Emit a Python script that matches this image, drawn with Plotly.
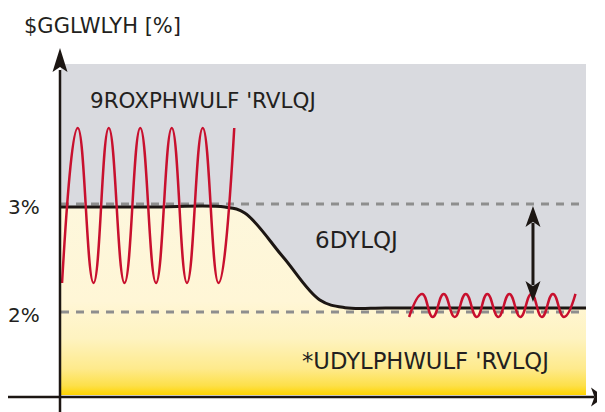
import plotly.graph_objects as go

# ---------------- data ----------------
y_tick_vals = [2, 3]
y_tick_text = ["2%", "3%"]
ref_levels = [3.0, 2.0]

# gravimetric (black) curve: time vs additive %
grav_x = [0.0, 17.0, 31.2, 35.0, 42.3, 49.3, 54.1, 62.0, 80.0, 100.0]
grav_y = [2.972, 2.972, 2.972, 2.917, 2.509, 2.111, 2.040, 2.037, 2.037, 2.037]

# volumetric dosing oscillation (extremes)
vol_x = [0.2, 3.2, 6.2, 9.1, 12.1, 15.1, 18.1, 21.1, 24.0, 27.0, 30.0, 33.0]
vol_y = [2.269, 3.704, 2.269, 3.704, 2.269, 3.704, 2.269, 3.704, 2.269, 3.704, 2.269, 3.704]

# small oscillation after saving (extremes)
small_x = [66.3, 68.8, 70.8, 72.9, 75.0, 77.1, 79.2, 81.2, 83.3, 85.4, 87.5, 89.6,
           91.6, 93.7, 95.8, 98.0]
small_y = [1.954, 2.167, 1.954, 2.167, 1.954, 2.167, 1.954, 2.167, 1.954, 2.167,
           1.954, 2.167, 1.954, 2.167, 1.954, 2.167]

labels = {
    "title": "$GGLWLYH [%]",
    "vol": "9ROXPHWULF 'RVLQJ",
    "save": "6DYLQJ",
    "grav": "*UDYLPHWULF 'RVLQJ",
}

# ---------------- geometry helpers (screen pixels; page has an 8px body margin) ----------------
OFF = 8
W, H = 605 - OFF, 412 - OFF
PX_X0, PX_PER_X = 61.0, 5.25      # x=0 at screen pixel 61
PX_Y3, PX_PER_Y = 204.0, 108.0    # y=3 at screen pixel 204

def dx(px):
    return px / PX_PER_X

def dy(px):
    return px / PX_PER_Y

def px_x(p):
    return (p - PX_X0) / PX_PER_X

def px_y(p):
    return 3 - (p - PX_Y3) / PX_PER_Y

x_range = [px_x(OFF), px_x(605)]
y_range = [px_y(412), px_y(OFF)]

X_END = 100.0
Y_TOP = px_y(64)           # top of grey area
Y_BASE = px_y(395)         # bottom of coloured area
AX_X = px_x(60)            # y-axis position
AX_Y = px_y(397)           # x-axis position

INK = "#1c1613"
RED = "#c8102e"
GREY_BG = "#d9dadf"
DASH = "#8e8e8e"
FONT = "DejaVu Sans"

fig = go.Figure()

# base for the yellow fill
fig.add_trace(go.Scatter(x=[0, X_END], y=[Y_BASE, Y_BASE], mode="lines",
                         line=dict(width=0), hoverinfo="skip", showlegend=False))
# yellow gradient fill under the gravimetric curve
fig.add_trace(go.Scatter(
    x=grav_x, y=grav_y, mode="lines", line=dict(width=0, shape="spline", smoothing=1.0),
    fill="tonexty",
    fillgradient=dict(type="vertical", start=Y_BASE, stop=grav_y[0],
                      colorscale=[[0.0, "#ffd400"], [0.05, "#fde04a"], [0.14, "#feea8c"],
                                  [0.30, "#fef3c0"], [0.5, "#fff6d6"], [1.0, "#fdf7dc"]]),
    hoverinfo="skip", showlegend=False))

# dashed reference lines
for lv in ref_levels:
    fig.add_trace(go.Scatter(x=[0, X_END], y=[lv, lv], mode="lines",
                             line=dict(color=DASH, width=3, dash="8px,7px"),
                             hoverinfo="skip", showlegend=False))

# black gravimetric line
fig.add_trace(go.Scatter(x=grav_x, y=grav_y, mode="lines",
                         line=dict(color=INK, width=3, shape="spline", smoothing=1.0),
                         showlegend=False))

# red oscillations
fig.add_trace(go.Scatter(x=vol_x, y=vol_y, mode="lines",
                         line=dict(color=RED, width=2.5, shape="spline", smoothing=1.3),
                         showlegend=False))
fig.add_trace(go.Scatter(x=small_x, y=small_y, mode="lines",
                         line=dict(color=RED, width=2.5, shape="spline", smoothing=1.3),
                         showlegend=False))

shapes = []
# grey background region
shapes.append(dict(type="rect", xref="x", yref="y", x0=0, x1=X_END, y0=Y_BASE, y1=Y_TOP,
                   fillcolor=GREY_BG, line=dict(width=0), layer="below"))

# y axis with arrow
shapes.append(dict(type="line", xref="x", yref="y", x0=AX_X, x1=AX_X,
                   y0=y_range[0], y1=px_y(70), line=dict(color=INK, width=2.5)))
tip, base, notch = px_y(48), px_y(72), px_y(67)
shapes.append(dict(type="path", xref="x", yref="y",
                   path=f"M {AX_X},{tip} L {AX_X + dx(7.5)},{base} L {AX_X},{notch} "
                        f"L {AX_X - dx(7.5)},{base} Z",
                   fillcolor=INK, line=dict(width=0)))
# x axis with arrow
x_tip = px_x(604.5)
x_base = px_x(591)
x_notch = px_x(594.5)
shapes.append(dict(type="line", xref="x", yref="y", x0=x_range[0], x1=x_notch,
                   y0=AX_Y, y1=AX_Y, line=dict(color=INK, width=2.5)))
shapes.append(dict(type="path", xref="x", yref="y",
                   path=f"M {x_tip},{AX_Y} L {x_base},{AX_Y + dy(9.5)} L {x_notch},{AX_Y} "
                        f"L {x_base},{AX_Y - dy(9.5)} Z",
                   fillcolor=INK, line=dict(width=0)))

# double-headed "saving" arrow
ARR_X = 89.9
ARR_TOP = 2.981
ARR_BOT = 2.093
hl = dy(21)
hw = dx(7.5)
shapes.append(dict(type="line", xref="x", yref="y", x0=ARR_X, x1=ARR_X,
                   y0=ARR_BOT + hl * 0.8, y1=ARR_TOP - hl * 0.8, line=dict(color=INK, width=3)))
shapes.append(dict(type="path", xref="x", yref="y",
                   path=f"M {ARR_X},{ARR_TOP} L {ARR_X + hw},{ARR_TOP - hl} "
                        f"L {ARR_X},{ARR_TOP - hl * 0.75} L {ARR_X - hw},{ARR_TOP - hl} Z",
                   fillcolor=INK, line=dict(width=0)))
shapes.append(dict(type="path", xref="x", yref="y",
                   path=f"M {ARR_X},{ARR_BOT} L {ARR_X + hw},{ARR_BOT + hl} "
                        f"L {ARR_X},{ARR_BOT + hl * 0.75} L {ARR_X - hw},{ARR_BOT + hl} Z",
                   fillcolor=INK, line=dict(width=0)))

txt = dict(color="#231f20", family=FONT)
annotations = [
    dict(text=labels["title"], x=px_x(22), y=px_y(26), xanchor="left", yanchor="middle",
         showarrow=False, font=dict(size=21, **txt)),
    dict(text=labels["vol"], x=px_x(88), y=px_y(100), xanchor="left", yanchor="middle",
         showarrow=False, font=dict(size=21.5, **txt)),
    dict(text=labels["save"], x=px_x(313), y=px_y(240), xanchor="left", yanchor="middle",
         showarrow=False, font=dict(size=23, **txt)),
    dict(text=labels["grav"], x=px_x(300), y=px_y(361), xanchor="left", yanchor="middle",
         showarrow=False, font=dict(size=22.7, **txt)),
]
# y tick labels
for v, t in zip(y_tick_vals, y_tick_text):
    annotations.append(dict(text=t, x=px_x(42), y=v, xanchor="right", yanchor="middle",
                            yshift=-3, showarrow=False, font=dict(size=20, **txt)))

fig.update_layout(
    width=W, height=H, margin=dict(l=0, r=0, t=0, b=0, pad=0),
    paper_bgcolor="white", plot_bgcolor="white", showlegend=False,
    shapes=shapes, annotations=annotations,
    xaxis=dict(range=x_range, visible=False, fixedrange=True),
    yaxis=dict(range=y_range, visible=False, fixedrange=True),
)

fig.write_html("out.html")
